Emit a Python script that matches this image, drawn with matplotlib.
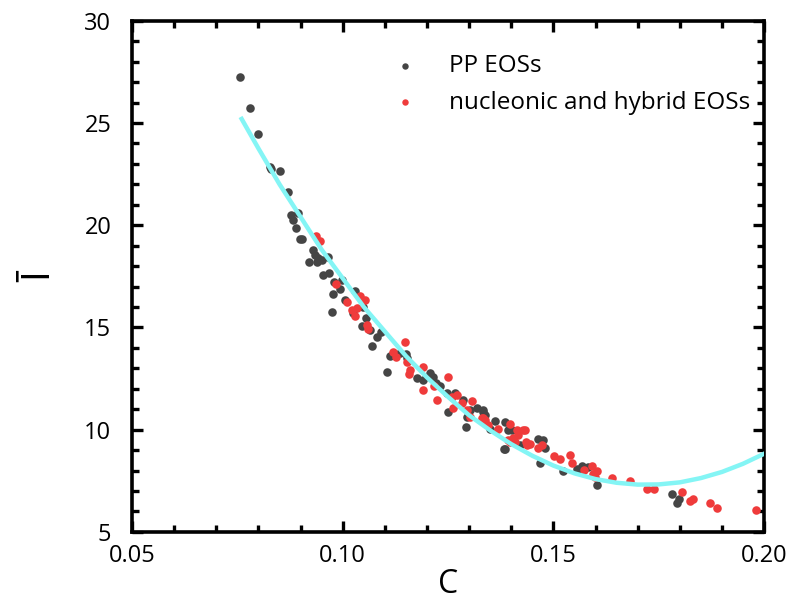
import matplotlib.pyplot as plt
from matplotlib.ticker import MultipleLocator

plt.rcParams['font.family'] = ['Open Sans', 'DejaVu Sans']

# PP EOSs (grey)
pp_C = [0.0756, 0.0780, 0.0799, 0.0828, 0.0830, 0.0851, 0.0870, 0.0877, 0.0882, 0.0894,
        0.0889, 0.0899, 0.0904, 0.0930, 0.0934, 0.0941, 0.0920, 0.0939, 0.0951, 0.0965,
        0.0953, 0.0968, 0.0979, 0.0994, 0.0977, 0.0998, 0.1029, 0.1006, 0.1048, 0.1025,
        0.0975, 0.1055, 0.1046, 0.1065, 0.1082, 0.1091, 0.1070, 0.1112, 0.1136, 0.1150,
        0.1153, 0.1105, 0.1207, 0.1214, 0.1176, 0.1222, 0.1231, 0.1191, 0.1248, 0.1267,
        0.1250, 0.1286, 0.1302, 0.1319, 0.1333, 0.1338, 0.1295, 0.1362, 0.1293, 0.1385,
        0.1392, 0.1421, 0.1464, 0.1480, 0.1385, 0.1476, 0.1468, 0.1523, 0.1556, 0.1568,
        0.1568, 0.1582, 0.1604, 0.1782, 0.1798, 0.1794, 0.1333, 0.1350, 0.1402, 0.1383]
pp_I = [27.26, 25.74, 24.47, 22.86, 22.76, 22.66, 21.63, 20.51, 20.26, 20.61,
        19.87, 19.33, 19.33, 18.80, 18.55, 18.41, 18.21, 18.21, 18.31, 18.45,
        17.57, 17.67, 17.23, 16.89, 16.64, 17.33, 16.79, 16.35, 16.01, 15.71,
        15.76, 15.47, 15.08, 14.88, 14.54, 14.78, 14.10, 13.61, 13.76, 13.71,
        13.51, 12.83, 12.78, 12.58, 12.53, 12.29, 12.14, 12.44, 11.80, 11.80,
        10.87, 11.46, 10.97, 11.07, 10.97, 10.72, 10.63, 10.43, 10.14, 10.38,
        9.99, 9.26, 9.55, 9.11, 9.06, 9.50, 8.38, 7.98, 8.08, 8.23,
        7.98, 8.18, 7.30, 6.86, 6.61, 6.42, 10.87, 10.04, 9.99, 9.06]

# nucleonic and hybrid EOSs (red)
nh_C = [0.0937, 0.0946, 0.0984, 0.1041, 0.1053, 0.1010, 0.1022, 0.1034, 0.1029, 0.1058,
        0.1060, 0.1148, 0.1120, 0.1127, 0.1153, 0.1160, 0.1157, 0.1191, 0.1191, 0.1250,
        0.1217, 0.1224, 0.1260, 0.1271, 0.1262, 0.1283, 0.1307, 0.1295, 0.1302, 0.1331,
        0.1338, 0.1345, 0.1369, 0.1397, 0.1414, 0.1433, 0.1392, 0.1404, 0.1416, 0.1435,
        0.1438, 0.1464, 0.1473, 0.1333, 0.1397, 0.1409, 0.1445, 0.1428, 0.1502, 0.1516,
        0.1540, 0.1544, 0.1573, 0.1592, 0.1604, 0.1594, 0.1599, 0.1639, 0.1682, 0.1722,
        0.1739, 0.1805, 0.1824, 0.1832, 0.1872, 0.1889, 0.1981]
nh_I = [19.48, 19.24, 17.13, 16.55, 16.35, 16.25, 15.86, 15.96, 15.57, 15.13,
        14.93, 14.30, 13.81, 13.56, 13.32, 12.93, 12.73, 13.07, 11.95, 12.58,
        12.14, 11.46, 11.60, 11.70, 11.07, 11.31, 11.41, 10.97, 10.63, 10.58,
        10.48, 10.23, 10.04, 10.28, 9.99, 9.99, 9.50, 9.60, 9.75, 9.40,
        9.26, 9.11, 9.26, 10.58, 9.40, 9.40, 9.31, 9.99, 8.72, 8.57,
        8.77, 8.38, 8.03, 8.23, 7.98, 7.84, 7.69, 7.64, 7.50, 7.10,
        7.10, 6.96, 6.52, 6.61, 6.42, 6.17, 6.08]

# fit curve
fit_C = [0.076, 0.080, 0.085, 0.090, 0.095, 0.100, 0.105, 0.110, 0.115, 0.120,
         0.125, 0.130, 0.135, 0.140, 0.145, 0.150, 0.155, 0.160, 0.165, 0.170,
         0.175, 0.180, 0.185, 0.190, 0.195, 0.200]
fit_I = [25.2, 23.75, 22.0, 20.4, 18.8, 17.4, 16.0, 14.8, 13.6, 12.55,
         11.6, 10.7, 9.96, 9.29, 8.72, 8.24, 7.86, 7.58, 7.40, 7.31,
         7.32, 7.42, 7.63, 7.93, 8.33, 8.82]

fig = plt.figure(figsize=(7.91, 6.12), dpi=100)
ax = fig.add_axes([0.167, 0.131, 0.799, 0.835])

ax.scatter(pp_C, pp_I, s=38, color='#454545', lw=0, label='PP EOSs', zorder=2)
ax.scatter(nh_C, nh_I, s=38, color='#ef3b3b', lw=0, label='nucleonic and hybrid EOSs', zorder=3)
ax.plot(fit_C, fit_I, color='#84f5f5', lw=3.2, zorder=4)

ax.set_xlim(0.05, 0.20)
ax.set_ylim(5, 30)
ax.xaxis.set_minor_locator(MultipleLocator(0.01))
ax.yaxis.set_major_locator(MultipleLocator(5))
ax.yaxis.set_minor_locator(MultipleLocator(1))
ax.set_xticks([0.05, 0.10, 0.15, 0.20], ['0.05', '0.10', '0.15', '0.20'])

ax.tick_params(which='both', direction='in', top=True, right=True, width=2.4, labelsize=17)
ax.tick_params(axis='x', which='both', pad=9)
ax.tick_params(axis='y', which='both', pad=15)
ax.tick_params(which='major', length=8)
ax.tick_params(which='minor', length=5)
for s in ax.spines.values():
    s.set_linewidth(2.6)

ax.set_xlabel('C', fontsize=23, labelpad=0)
ax.set_ylabel('Ī', fontsize=28, labelpad=18)

ax.legend(loc='upper right', bbox_to_anchor=(1.013, 0.977), frameon=False,
          fontsize=17.5, markerscale=0.75, handletextpad=1.0, handlelength=1.6,
          borderaxespad=0.5)

fig.savefig('out.png', dpi=100)
